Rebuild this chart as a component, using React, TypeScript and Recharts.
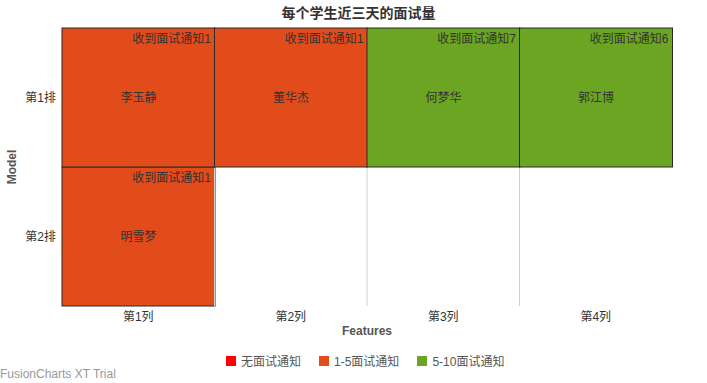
import { BarChart, Bar, XAxis, YAxis } from "recharts";

const columns = ["第1列", "第2列", "第3列", "第4列"];
const rowLabels = ["第2排", "第1排"]; // bottom to top
const row1Names = ["李玉静", "董华杰", "何梦华", "郭江博"];
const row1Counts = [1, 1, 7, 6];
const row2Names = ["明雪梦", "", "", ""];
const row2Counts = [1, null, null, null];

const legendItems = [
  { label: "无面试通知", color: "#FF0000" },
  { label: "1-5面试通知", color: "#E24B1A" },
  { label: "5-10面试通知", color: "#6BA522" },
];

const FONT = "'Liberation Sans', 'Noto Sans CJK SC', sans-serif";

function colorFor(count: number | null) {
  if (count == null) return null;
  if (count === 0) return legendItems[0].color;
  if (count <= 5) return legendItems[1].color;
  return legendItems[2].color;
}

const data = columns.map((col, i) => ({
  col,
  r2: 1,
  r1: 1,
  n1: row1Names[i],
  c1: row1Counts[i],
  n2: row2Names[i],
  c2: row2Counts[i],
  idx: i,
}));

function makeCell(row: 1 | 2) {
  return (props: any) => {
    const { x, y, width, height, payload } = props;
    const name = row === 1 ? payload.n1 : payload.n2;
    const count = row === 1 ? payload.c1 : payload.c2;
    const fill = colorFor(count);
    if (!fill) {
      // empty cell: only a faint divider on its left
      if (payload.idx === 0) return <g />;
      return (
        <line x1={x} x2={x} y1={y} y2={y + height} stroke="#d0d0d0" strokeWidth={1} />
      );
    }
    return (
      <g>
        <rect x={x} y={y} width={width} height={height} fill={fill} stroke="#2a2a2a" strokeWidth={1} />
        <text x={x + width - 4} y={y + 15} textAnchor="end" fontSize={12} fill="#333" fontFamily={FONT}>
          {"收到面试通知" + count}
        </text>
        <text x={x + width / 2} y={y + height / 2 + 4} textAnchor="middle" fontSize={12} fill="#333" fontFamily={FONT}>
          {name}
        </text>
      </g>
    );
  };
}

export default function App() {
  return (
    <div style={{ position: "absolute", left: 0, top: 0, width: 707, height: 383, background: "#fff", fontFamily: FONT }}>
      <BarChart
        width={707}
        height={383}
        data={data}
        margin={{ top: 28, right: 35, left: 0, bottom: 47 }}
        barCategoryGap={0}
        barGap={0}
      >
        <XAxis
          dataKey="col"
          height={30}
          axisLine={false}
          tickLine={false}
          tickSize={0}
          tickMargin={6}
          tick={{ fontSize: 12, fill: "#333", fontFamily: FONT }}
        />
        <YAxis
          type="number"
          domain={[0, 2]}
          ticks={[0.5, 1.5]}
          tickFormatter={(v: number) => rowLabels[Math.floor(v)]}
          width={62}
          axisLine={false}
          tickLine={false}
          tickSize={0}
          tickMargin={6}
          tick={{ fontSize: 12, fill: "#333", fontFamily: FONT }}
        />
        <Bar dataKey="r2" stackId="s" shape={makeCell(2)} isAnimationActive={false} />
        <Bar dataKey="r1" stackId="s" shape={makeCell(1)} isAnimationActive={false} />
      </BarChart>

      <div style={{ position: "absolute", left: 0, width: 717, top: 2, textAlign: "center", fontSize: 14, fontWeight: "bold", color: "#333" }}>
        每个学生近三天的面试量
      </div>
      <div style={{ position: "absolute", left: 62, width: 610, top: 324, textAlign: "center", fontSize: 12, fontWeight: "bold", color: "#555" }}>
        Features
      </div>
      <div
        style={{
          position: "absolute",
          left: 12,
          top: 167,
          transform: "translate(-50%, -50%) rotate(-90deg)",
          fontSize: 12,
          fontWeight: "bold",
          color: "#555",
        }}
      >
        Model
      </div>
      <div style={{ position: "absolute", left: 226, top: 352, display: "flex", alignItems: "center", fontSize: 12, color: "#555" }}>
        {legendItems.map((it) => (
          <div key={it.label} style={{ display: "flex", alignItems: "center", marginRight: 18 }}>
            <span style={{ width: 10, height: 10, background: it.color, marginRight: 5, display: "inline-block" }} />
            <span>{it.label}</span>
          </div>
        ))}
      </div>
      <div style={{ position: "absolute", left: 0, top: 367, fontSize: 12, color: "#999" }}>FusionCharts XT Trial</div>
    </div>
  );
}
